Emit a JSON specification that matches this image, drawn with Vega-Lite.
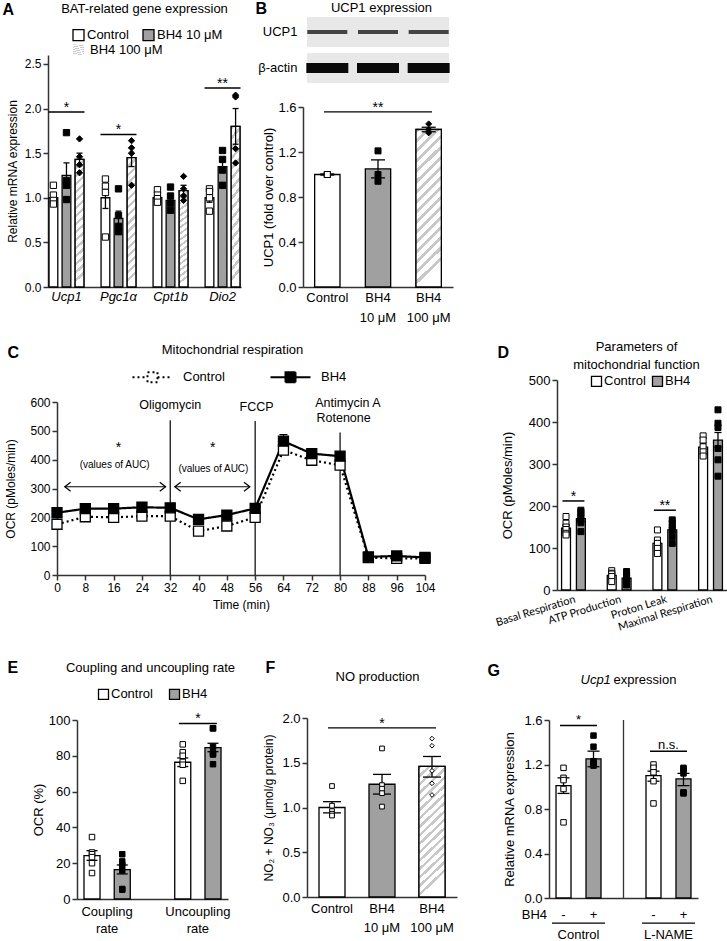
{
"$schema":"https://vega.github.io/schema/vega-lite/v6.json",
"width":727,"height":941,"autosize":"none","padding":0,
"background":"white",
"config":{
 "view":{"stroke":null},
 "font":"Liberation Sans",
 "axis":{"labelFont":"Liberation Sans","titleFont":"Liberation Sans","labelFontSize":12,"titleFontSize":12,"titleFontWeight":"normal","labelColor":"#000","titleColor":"#000","domain":true,"domainColor":"#333","domainWidth":1.5,"tickColor":"#333","tickWidth":1.5,"tickSize":5,"grid":false,"labelPadding":2,"zindex":1},
 "legend":{"labelFont":"Liberation Sans","labelFontSize":13,"labelColor":"#000","padding":0},
 "text":{"font":"Liberation Sans","color":"#000"},
 "tick":{"opacity":1,"color":"#000"},
 "point":{"opacity":1},
 "rule":{"color":"#000"}
},
"resolve":{"scale":{"x":"independent","y":"independent","xOffset":"independent","color":"independent","fill":"independent","shape":"independent","strokeDash":"independent","opacity":"independent"},"axis":{"x":"independent","y":"independent"}},
"layer":[
{
 "data":{"values":[
  {"k":"bar","gene":"Ucp1","grp":"Control","v":1.0,"lo":0.97,"hi":1.03},
  {"k":"bar","gene":"Ucp1","grp":"BH4 10 μM","v":1.25,"lo":1.11,"hi":1.39},
  {"k":"bar","gene":"Ucp1","grp":"BH4 100 μM","v":1.43,"lo":1.36,"hi":1.5},
  {"k":"bar","gene":"Pgc1α","grp":"Control","v":1.0,"lo":0.88,"hi":1.12},
  {"k":"bar","gene":"Pgc1α","grp":"BH4 10 μM","v":0.77,"lo":0.69,"hi":0.85},
  {"k":"bar","gene":"Pgc1α","grp":"BH4 100 μM","v":1.45,"lo":1.35,"hi":1.56},
  {"k":"bar","gene":"Cpt1b","grp":"Control","v":1.0,"lo":0.97,"hi":1.03},
  {"k":"bar","gene":"Cpt1b","grp":"BH4 10 μM","v":0.97,"lo":0.92,"hi":1.03},
  {"k":"bar","gene":"Cpt1b","grp":"BH4 100 μM","v":1.08,"lo":1.03,"hi":1.14},
  {"k":"bar","gene":"Dio2","grp":"Control","v":1.0,"lo":0.95,"hi":1.05},
  {"k":"bar","gene":"Dio2","grp":"BH4 10 μM","v":1.35,"lo":1.3,"hi":1.41},
  {"k":"bar","gene":"Dio2","grp":"BH4 100 μM","v":1.8,"lo":1.6,"hi":2.0},
  {"k":"pt","gene":"Ucp1","grp":"Control","v":1.14},{"k":"pt","gene":"Ucp1","grp":"Control","v":1.03},{"k":"pt","gene":"Ucp1","grp":"Control","v":0.97},{"k":"pt","gene":"Ucp1","grp":"Control","v":0.93},
  {"k":"pt","gene":"Ucp1","grp":"BH4 10 μM","v":1.73},{"k":"pt","gene":"Ucp1","grp":"BH4 10 μM","v":1.19},{"k":"pt","gene":"Ucp1","grp":"BH4 10 μM","v":1.14},{"k":"pt","gene":"Ucp1","grp":"BH4 10 μM","v":0.98},
  {"k":"pt","gene":"Ucp1","grp":"BH4 100 μM","v":1.66},{"k":"pt","gene":"Ucp1","grp":"BH4 100 μM","v":1.46},{"k":"pt","gene":"Ucp1","grp":"BH4 100 μM","v":1.37},{"k":"pt","gene":"Ucp1","grp":"BH4 100 μM","v":1.28},
  {"k":"pt","gene":"Pgc1α","grp":"Control","v":1.21},{"k":"pt","gene":"Pgc1α","grp":"Control","v":1.13},{"k":"pt","gene":"Pgc1α","grp":"Control","v":1.06},{"k":"pt","gene":"Pgc1α","grp":"Control","v":0.56},
  {"k":"pt","gene":"Pgc1α","grp":"BH4 10 μM","v":1.1},{"k":"pt","gene":"Pgc1α","grp":"BH4 10 μM","v":0.8},{"k":"pt","gene":"Pgc1α","grp":"BH4 10 μM","v":0.68},{"k":"pt","gene":"Pgc1α","grp":"BH4 10 μM","v":0.62},
  {"k":"pt","gene":"Pgc1α","grp":"BH4 100 μM","v":1.64},{"k":"pt","gene":"Pgc1α","grp":"BH4 100 μM","v":1.56},{"k":"pt","gene":"Pgc1α","grp":"BH4 100 μM","v":1.5},{"k":"pt","gene":"Pgc1α","grp":"BH4 100 μM","v":1.14},
  {"k":"pt","gene":"Cpt1b","grp":"Control","v":1.09},{"k":"pt","gene":"Cpt1b","grp":"Control","v":1.03},{"k":"pt","gene":"Cpt1b","grp":"Control","v":0.99},{"k":"pt","gene":"Cpt1b","grp":"Control","v":0.95},
  {"k":"pt","gene":"Cpt1b","grp":"BH4 10 μM","v":1.12},{"k":"pt","gene":"Cpt1b","grp":"BH4 10 μM","v":1.02},{"k":"pt","gene":"Cpt1b","grp":"BH4 10 μM","v":0.94},{"k":"pt","gene":"Cpt1b","grp":"BH4 10 μM","v":0.86},
  {"k":"pt","gene":"Cpt1b","grp":"BH4 100 μM","v":1.24},{"k":"pt","gene":"Cpt1b","grp":"BH4 100 μM","v":1.1},{"k":"pt","gene":"Cpt1b","grp":"BH4 100 μM","v":1.02},{"k":"pt","gene":"Cpt1b","grp":"BH4 100 μM","v":0.97},
  {"k":"pt","gene":"Dio2","grp":"Control","v":1.1},{"k":"pt","gene":"Dio2","grp":"Control","v":1.07},{"k":"pt","gene":"Dio2","grp":"Control","v":1.0},{"k":"pt","gene":"Dio2","grp":"Control","v":0.85},
  {"k":"pt","gene":"Dio2","grp":"BH4 10 μM","v":1.53},{"k":"pt","gene":"Dio2","grp":"BH4 10 μM","v":1.43},{"k":"pt","gene":"Dio2","grp":"BH4 10 μM","v":1.31},{"k":"pt","gene":"Dio2","grp":"BH4 10 μM","v":1.14},
  {"k":"pt","gene":"Dio2","grp":"BH4 100 μM","v":2.15},{"k":"pt","gene":"Dio2","grp":"BH4 100 μM","v":2.13},{"k":"pt","gene":"Dio2","grp":"BH4 100 μM","v":1.55},{"k":"pt","gene":"Dio2","grp":"BH4 100 μM","v":1.39},
  {"k":"sig","gene":"Ucp1","v":1.96,"lab":"*"},{"k":"sig","gene":"Pgc1α","v":1.71,"lab":"*"},{"k":"sig","gene":"Dio2","v":2.23,"lab":"**"}
 ]},
 "resolve":{"axis":{"x":"independent","y":"independent"}},
 "layer":[
  {"transform":[{"filter":"datum.k=='bar'"}],"mark":{"type":"bar","stroke":"#000","strokeWidth":1.3},
   "encoding":{
    "x":{"field":"gene","type":"nominal","sort":["Ucp1","Pgc1α","Cpt1b","Dio2"],"scale":{"range":[48,241],"paddingInner":0.33,"paddingOuter":0.02},"axis":{"orient":"bottom","offset":-654,"title":null,"ticks":false,"labelAngle":0,"labelFontStyle":"italic","labelFontSize":13,"labelPadding":3}},
    "xOffset":{"field":"grp","type":"nominal","sort":["Control","BH4 10 μM","BH4 100 μM"],"scale":{"domain":["Control","BH4 10 μM","BH4 100 μM"],"paddingInner":0.33,"paddingOuter":0}},
    "y":{"field":"v","type":"quantitative","scale":{"domain":[0,2.5],"range":[287,55]},"axis":{"orient":"left","offset":-48,"title":"Relative mRNA expression","values":[0,0.5,1,1.5,2,2.5],"format":".1f","titlePadding":5}},
    "color":{"field":"grp","type":"nominal","scale":{"domain":["Control","BH4 10 μM","BH4 100 μM"],"range":["#ffffff","#a0a0a0","#dadada"]},
     "legend":{"title":null,"orient":"none","legendX":72,"legendY":28.5,"direction":"horizontal","values":["Control","BH4 10 μM"],"symbolType":"square","symbolSize":121,"symbolStrokeColor":"#000","symbolStrokeWidth":1.3,"columnPadding":11,"labelOffset":2}}
   }},
  {"transform":[{"filter":"datum.k=='bar' && datum.grp=='BH4 100 μM'"}],"mark":{"type":"bar","stroke":"#000","strokeWidth":1.3,"fill":{"gradient":"linear","x1":0,"y1":0,"x2":0.067,"y2":1,"stops":[{"offset":0,"color":"#c8c8c8"},{"offset":0.025,"color":"#c8c8c8"},{"offset":0.025,"color":"#fff"},{"offset":0.0625,"color":"#fff"},{"offset":0.0625,"color":"#c8c8c8"},{"offset":0.0875,"color":"#c8c8c8"},{"offset":0.0875,"color":"#fff"},{"offset":0.125,"color":"#fff"},{"offset":0.125,"color":"#c8c8c8"},{"offset":0.15,"color":"#c8c8c8"},{"offset":0.15,"color":"#fff"},{"offset":0.1875,"color":"#fff"},{"offset":0.1875,"color":"#c8c8c8"},{"offset":0.2125,"color":"#c8c8c8"},{"offset":0.2125,"color":"#fff"},{"offset":0.25,"color":"#fff"},{"offset":0.25,"color":"#c8c8c8"},{"offset":0.275,"color":"#c8c8c8"},{"offset":0.275,"color":"#fff"},{"offset":0.3125,"color":"#fff"},{"offset":0.3125,"color":"#c8c8c8"},{"offset":0.3375,"color":"#c8c8c8"},{"offset":0.3375,"color":"#fff"},{"offset":0.375,"color":"#fff"},{"offset":0.375,"color":"#c8c8c8"},{"offset":0.4,"color":"#c8c8c8"},{"offset":0.4,"color":"#fff"},{"offset":0.4375,"color":"#fff"},{"offset":0.4375,"color":"#c8c8c8"},{"offset":0.4625,"color":"#c8c8c8"},{"offset":0.4625,"color":"#fff"},{"offset":0.5,"color":"#fff"},{"offset":0.5,"color":"#c8c8c8"},{"offset":0.525,"color":"#c8c8c8"},{"offset":0.525,"color":"#fff"},{"offset":0.5625,"color":"#fff"},{"offset":0.5625,"color":"#c8c8c8"},{"offset":0.5875,"color":"#c8c8c8"},{"offset":0.5875,"color":"#fff"},{"offset":0.625,"color":"#fff"},{"offset":0.625,"color":"#c8c8c8"},{"offset":0.65,"color":"#c8c8c8"},{"offset":0.65,"color":"#fff"},{"offset":0.6875,"color":"#fff"},{"offset":0.6875,"color":"#c8c8c8"},{"offset":0.7125,"color":"#c8c8c8"},{"offset":0.7125,"color":"#fff"},{"offset":0.75,"color":"#fff"},{"offset":0.75,"color":"#c8c8c8"},{"offset":0.775,"color":"#c8c8c8"},{"offset":0.775,"color":"#fff"},{"offset":0.8125,"color":"#fff"},{"offset":0.8125,"color":"#c8c8c8"},{"offset":0.8375,"color":"#c8c8c8"},{"offset":0.8375,"color":"#fff"},{"offset":0.875,"color":"#fff"},{"offset":0.875,"color":"#c8c8c8"},{"offset":0.9,"color":"#c8c8c8"},{"offset":0.9,"color":"#fff"},{"offset":0.9375,"color":"#fff"},{"offset":0.9375,"color":"#c8c8c8"},{"offset":0.9625,"color":"#c8c8c8"},{"offset":0.9625,"color":"#fff"},{"offset":1,"color":"#fff"}]}},
   "encoding":{"x":{"field":"gene","type":"nominal","sort":["Ucp1","Pgc1α","Cpt1b","Dio2"],"axis":null},"xOffset":{"field":"grp","type":"nominal","sort":["Control","BH4 10 μM","BH4 100 μM"]},"y":{"field":"v","type":"quantitative","axis":null},
    "opacity":{"field":"grp","type":"ordinal","scale":{"domain":["BH4 100 μM"],"range":[1]},
     "legend":{"title":null,"orient":"none","legendX":72,"legendY":43.5,"symbolType":"square","symbolSize":121,"symbolStrokeColor":"#000","symbolStrokeWidth":1.3,"symbolOpacity":1,"labelOffset":5}}}},
  {"transform":[{"filter":"datum.k=='bar'"}],"mark":{"type":"rule","strokeWidth":1.3},
   "encoding":{"x":{"field":"gene","type":"nominal","sort":["Ucp1","Pgc1α","Cpt1b","Dio2"],"axis":null},"xOffset":{"field":"grp","type":"nominal","sort":["Control","BH4 10 μM","BH4 100 μM"]},"y":{"field":"lo","type":"quantitative","axis":null},"y2":{"field":"hi"}}},
  {"transform":[{"filter":"datum.k=='bar'"}],"mark":{"type":"tick","orient":"horizontal","size":6,"thickness":1.3},
   "encoding":{"x":{"field":"gene","type":"nominal","sort":["Ucp1","Pgc1α","Cpt1b","Dio2"],"axis":null},"xOffset":{"field":"grp","type":"nominal","sort":["Control","BH4 10 μM","BH4 100 μM"]},"y":{"field":"hi","type":"quantitative","axis":null}}},
  {"transform":[{"filter":"datum.k=='bar'"}],"mark":{"type":"tick","orient":"horizontal","size":6,"thickness":1.3},
   "encoding":{"x":{"field":"gene","type":"nominal","sort":["Ucp1","Pgc1α","Cpt1b","Dio2"],"axis":null},"xOffset":{"field":"grp","type":"nominal","sort":["Control","BH4 10 μM","BH4 100 μM"]},"y":{"field":"lo","type":"quantitative","axis":null}}},
  {"transform":[{"filter":"datum.k=='pt'"}],"mark":{"type":"point","filled":true,"stroke":"#000","strokeWidth":1,"size":40},
   "encoding":{"x":{"field":"gene","type":"nominal","sort":["Ucp1","Pgc1α","Cpt1b","Dio2"],"axis":null},"xOffset":{"field":"grp","type":"nominal","sort":["Control","BH4 10 μM","BH4 100 μM"]},"y":{"field":"v","type":"quantitative","axis":null},
    "fill":{"field":"grp","type":"nominal","sort":["Control","BH4 10 μM","BH4 100 μM"],"scale":{"range":["#ffffff","#000000","#000000"]},"legend":null},
    "shape":{"field":"grp","type":"nominal","sort":["Control","BH4 10 μM","BH4 100 μM"],"scale":{"range":["square","square","diamond"]},"legend":null}}},
  {"transform":[{"filter":"datum.k=='sig'"}],"mark":{"type":"tick","orient":"horizontal","size":36,"thickness":1.5},
   "encoding":{"x":{"field":"gene","type":"nominal","sort":["Ucp1","Pgc1α","Cpt1b","Dio2"],"axis":{"orient":"top","offset":0,"title":"BAT-related gene expression","titleX":144,"titleY":8,"titleAlign":"center","titleBaseline":"middle","titleFontSize":13,"labels":false,"ticks":false,"domain":false}},"y":{"field":"v","type":"quantitative","axis":null}}},
  {"transform":[{"filter":"datum.k=='sig'"}],"mark":{"type":"text","fontSize":14,"baseline":"alphabetic"},
   "encoding":{"x":{"field":"gene","type":"nominal","sort":["Ucp1","Pgc1α","Cpt1b","Dio2"],"axis":{"orient":"top","offset":0,"title":"A","titleX":2,"titleY":9,"titleAlign":"left","titleBaseline":"middle","titleFontSize":16,"titleFontWeight":"bold","labels":false,"ticks":false,"domain":false}},"y":{"field":"v","type":"quantitative","axis":null},"text":{"field":"lab"}}}
 ]
},
{
 "data":{"values":[
  {"lane":"Control","prot":"UCP1"},{"lane":"BH4|10 μM","prot":"UCP1"},{"lane":"BH4|100 μM","prot":"UCP1"},
  {"lane":"Control","prot":"β-actin"},{"lane":"BH4|10 μM","prot":"β-actin"},{"lane":"BH4|100 μM","prot":"β-actin"}
 ]},
 "resolve":{"axis":{"x":"independent","y":"independent"}},
 "layer":[
  {"transform":[{"filter":"datum.lane=='BH4|10 μM'"}],"mark":{"type":"tick","orient":"horizontal","size":142,"thickness":30,"color":"#e8e8e8"},
   "encoding":{"x":{"field":"lane","type":"nominal","sort":["Control","BH4|10 μM","BH4|100 μM"],"scale":{"range":[303,453],"paddingInner":0.2,"paddingOuter":0.08},"axis":null},
    "y":{"field":"prot","type":"nominal","sort":["UCP1","β-actin"],"scale":{"range":[17,83],"paddingInner":0.16,"paddingOuter":0},"axis":{"orient":"left","offset":-303,"title":null,"ticks":false,"domain":false,"labelFontSize":13,"labelPadding":6}}}},
  {"transform":[{"filter":"datum.prot=='UCP1'"}],"mark":{"type":"tick","orient":"horizontal","size":40,"thickness":4,"color":"#444"},
   "encoding":{"x":{"field":"lane","type":"nominal","sort":["Control","BH4|10 μM","BH4|100 μM"],"axis":{"orient":"top","offset":0,"title":"UCP1 expression","titleX":381,"titleY":7,"titleAlign":"center","titleBaseline":"middle","titleFontSize":13,"labels":false,"ticks":false,"domain":false}},
    "y":{"field":"prot","type":"nominal","sort":["UCP1","β-actin"],"axis":null}}},
  {"transform":[{"filter":"datum.prot=='β-actin'"}],"mark":{"type":"tick","orient":"horizontal","size":42,"thickness":10,"color":"#0a0a0a"},
   "encoding":{"x":{"field":"lane","type":"nominal","sort":["Control","BH4|10 μM","BH4|100 μM"],"axis":{"orient":"top","offset":0,"title":"B","titleX":255,"titleY":8,"titleAlign":"left","titleBaseline":"middle","titleFontSize":16,"titleFontWeight":"bold","labels":false,"ticks":false,"domain":false}},"y":{"field":"prot","type":"nominal","sort":["UCP1","β-actin"],"axis":null}}}
 ]
},
{
 "data":{"values":[
  {"k":"bar","c":"Control","v":1.0,"lo":0.995,"hi":1.005},
  {"k":"bar","c":"BH4|10 μM","v":1.05,"lo":0.97,"hi":1.13},
  {"k":"bar","c":"BH4|100 μM","v":1.4,"lo":1.38,"hi":1.42},
  {"k":"pt","c":"Control","v":1.0},{"k":"pt","c":"Control","v":1.0},{"k":"pt","c":"Control","v":1.0},
  {"k":"pt","c":"BH4|10 μM","v":1.21},{"k":"pt","c":"BH4|10 μM","v":1.0},{"k":"pt","c":"BH4|10 μM","v":0.94},
  {"k":"pt","c":"BH4|100 μM","v":1.45},{"k":"pt","c":"BH4|100 μM","v":1.4},{"k":"pt","c":"BH4|100 μM","v":1.37},
  {"k":"sig","c":"BH4|10 μM","v":1.556,"lab":"**"}
 ]},
 "resolve":{"axis":{"x":"independent","y":"independent"}},
 "layer":[
  {"transform":[{"filter":"datum.k=='bar'"}],"mark":{"type":"bar","stroke":"#000","strokeWidth":1.3},
   "encoding":{
    "x":{"field":"c","type":"nominal","sort":["Control","BH4|10 μM","BH4|100 μM"],"scale":{"range":[303,453],"paddingInner":0.5,"paddingOuter":0.23},"axis":{"orient":"bottom","offset":-654,"title":null,"ticks":false,"labelAngle":0,"labelExpr":"split(datum.label,'|')","labelFontSize":13,"labelPadding":4,"labelLineHeight":20}},
    "y":{"field":"v","type":"quantitative","scale":{"domain":[0,1.6],"range":[287,107]},"axis":{"orient":"left","offset":-303,"title":"UCP1 (fold over control)","values":[0,0.4,0.8,1.2,1.6],"format":".1f","titlePadding":2,"labelFontSize":13,"titleFontSize":13}},
    "color":{"field":"c","type":"nominal","scale":{"domain":["Control","BH4|10 μM","BH4|100 μM"],"range":["#ffffff","#a0a0a0","#dadada"]},"legend":null}
   }},
  {"transform":[{"filter":"datum.k=='bar' && datum.c=='BH4|100 μM'"}],"mark":{"type":"bar","stroke":"#000","strokeWidth":1.3,"fill":{"gradient":"linear","x1":0,"y1":0,"x2":0.16,"y2":1,"stops":[{"offset":0,"color":"#c8c8c8"},{"offset":0.025,"color":"#c8c8c8"},{"offset":0.025,"color":"#fff"},{"offset":0.0625,"color":"#fff"},{"offset":0.0625,"color":"#c8c8c8"},{"offset":0.0875,"color":"#c8c8c8"},{"offset":0.0875,"color":"#fff"},{"offset":0.125,"color":"#fff"},{"offset":0.125,"color":"#c8c8c8"},{"offset":0.15,"color":"#c8c8c8"},{"offset":0.15,"color":"#fff"},{"offset":0.1875,"color":"#fff"},{"offset":0.1875,"color":"#c8c8c8"},{"offset":0.2125,"color":"#c8c8c8"},{"offset":0.2125,"color":"#fff"},{"offset":0.25,"color":"#fff"},{"offset":0.25,"color":"#c8c8c8"},{"offset":0.275,"color":"#c8c8c8"},{"offset":0.275,"color":"#fff"},{"offset":0.3125,"color":"#fff"},{"offset":0.3125,"color":"#c8c8c8"},{"offset":0.3375,"color":"#c8c8c8"},{"offset":0.3375,"color":"#fff"},{"offset":0.375,"color":"#fff"},{"offset":0.375,"color":"#c8c8c8"},{"offset":0.4,"color":"#c8c8c8"},{"offset":0.4,"color":"#fff"},{"offset":0.4375,"color":"#fff"},{"offset":0.4375,"color":"#c8c8c8"},{"offset":0.4625,"color":"#c8c8c8"},{"offset":0.4625,"color":"#fff"},{"offset":0.5,"color":"#fff"},{"offset":0.5,"color":"#c8c8c8"},{"offset":0.525,"color":"#c8c8c8"},{"offset":0.525,"color":"#fff"},{"offset":0.5625,"color":"#fff"},{"offset":0.5625,"color":"#c8c8c8"},{"offset":0.5875,"color":"#c8c8c8"},{"offset":0.5875,"color":"#fff"},{"offset":0.625,"color":"#fff"},{"offset":0.625,"color":"#c8c8c8"},{"offset":0.65,"color":"#c8c8c8"},{"offset":0.65,"color":"#fff"},{"offset":0.6875,"color":"#fff"},{"offset":0.6875,"color":"#c8c8c8"},{"offset":0.7125,"color":"#c8c8c8"},{"offset":0.7125,"color":"#fff"},{"offset":0.75,"color":"#fff"},{"offset":0.75,"color":"#c8c8c8"},{"offset":0.775,"color":"#c8c8c8"},{"offset":0.775,"color":"#fff"},{"offset":0.8125,"color":"#fff"},{"offset":0.8125,"color":"#c8c8c8"},{"offset":0.8375,"color":"#c8c8c8"},{"offset":0.8375,"color":"#fff"},{"offset":0.875,"color":"#fff"},{"offset":0.875,"color":"#c8c8c8"},{"offset":0.9,"color":"#c8c8c8"},{"offset":0.9,"color":"#fff"},{"offset":0.9375,"color":"#fff"},{"offset":0.9375,"color":"#c8c8c8"},{"offset":0.9625,"color":"#c8c8c8"},{"offset":0.9625,"color":"#fff"},{"offset":1,"color":"#fff"}]}},
   "encoding":{"x":{"field":"c","type":"nominal","sort":["Control","BH4|10 μM","BH4|100 μM"],"axis":null},"y":{"field":"v","type":"quantitative","axis":null}}},
  {"transform":[{"filter":"datum.k=='bar'"}],"mark":{"type":"rule","strokeWidth":1.3},
   "encoding":{"x":{"field":"c","type":"nominal","sort":["Control","BH4|10 μM","BH4|100 μM"],"axis":null},"y":{"field":"lo","type":"quantitative","axis":null},"y2":{"field":"hi"}}},
  {"transform":[{"filter":"datum.k=='bar'"}],"mark":{"type":"tick","orient":"horizontal","size":14,"thickness":1.3},
   "encoding":{"x":{"field":"c","type":"nominal","sort":["Control","BH4|10 μM","BH4|100 μM"],"axis":null},"y":{"field":"hi","type":"quantitative","axis":null}}},
  {"transform":[{"filter":"datum.k=='bar'"}],"mark":{"type":"tick","orient":"horizontal","size":14,"thickness":1.3},
   "encoding":{"x":{"field":"c","type":"nominal","sort":["Control","BH4|10 μM","BH4|100 μM"],"axis":null},"y":{"field":"lo","type":"quantitative","axis":null}}},
  {"transform":[{"filter":"datum.k=='pt'"}],"mark":{"type":"point","filled":true,"stroke":"#000","strokeWidth":1,"size":36},
   "encoding":{"x":{"field":"c","type":"nominal","sort":["Control","BH4|10 μM","BH4|100 μM"],"axis":null},"y":{"field":"v","type":"quantitative","axis":null},
    "fill":{"field":"c","type":"nominal","sort":["Control","BH4|10 μM","BH4|100 μM"],"scale":{"range":["#ffffff","#000000","#000000"]},"legend":null},
    "shape":{"field":"c","type":"nominal","sort":["Control","BH4|10 μM","BH4|100 μM"],"scale":{"range":["square","square","diamond"]},"legend":null}}},
  {"transform":[{"filter":"datum.k=='sig'"}],"mark":{"type":"tick","orient":"horizontal","size":108,"thickness":1.3},
   "encoding":{"x":{"field":"c","type":"nominal","sort":["Control","BH4|10 μM","BH4|100 μM"],"axis":null},"y":{"field":"v","type":"quantitative","axis":null}}},
  {"transform":[{"filter":"datum.k=='sig'"}],"mark":{"type":"text","fontSize":14,"baseline":"alphabetic"},
   "encoding":{"x":{"field":"c","type":"nominal","sort":["Control","BH4|10 μM","BH4|100 μM"],"axis":null},"y":{"field":"v","type":"quantitative","axis":null},"text":{"field":"lab"}}}
 ]
},
{
 "data":{"values":[
  {"k":"s","s":"Control","t":0,"v":176,"lo":168,"hi":184},{"k":"s","s":"Control","t":8,"v":202,"lo":194,"hi":210},{"k":"s","s":"Control","t":16,"v":200,"lo":192,"hi":208},{"k":"s","s":"Control","t":24,"v":204,"lo":196,"hi":212},{"k":"s","s":"Control","t":32,"v":204,"lo":196,"hi":212},{"k":"s","s":"Control","t":40,"v":152,"lo":144,"hi":160},{"k":"s","s":"Control","t":48,"v":170,"lo":162,"hi":178},{"k":"s","s":"Control","t":56,"v":200,"lo":192,"hi":208},{"k":"s","s":"Control","t":64,"v":433,"lo":420,"hi":446},{"k":"s","s":"Control","t":72,"v":398,"lo":388,"hi":408},{"k":"s","s":"Control","t":80,"v":381,"lo":370,"hi":392},{"k":"s","s":"Control","t":88,"v":60,"lo":55,"hi":65},{"k":"s","s":"Control","t":96,"v":58,"lo":53,"hi":63},{"k":"s","s":"Control","t":104,"v":58,"lo":53,"hi":63},
  {"k":"s","s":"BH4","t":0,"v":216,"lo":208,"hi":224},{"k":"s","s":"BH4","t":8,"v":230,"lo":222,"hi":238},{"k":"s","s":"BH4","t":16,"v":230,"lo":222,"hi":238},{"k":"s","s":"BH4","t":24,"v":235,"lo":227,"hi":243},{"k":"s","s":"BH4","t":32,"v":233,"lo":225,"hi":241},{"k":"s","s":"BH4","t":40,"v":193,"lo":185,"hi":201},{"k":"s","s":"BH4","t":48,"v":208,"lo":200,"hi":216},{"k":"s","s":"BH4","t":56,"v":231,"lo":223,"hi":239},{"k":"s","s":"BH4","t":64,"v":464,"lo":441,"hi":487},{"k":"s","s":"BH4","t":72,"v":421,"lo":410,"hi":432},{"k":"s","s":"BH4","t":80,"v":412,"lo":400,"hi":424},{"k":"s","s":"BH4","t":88,"v":63,"lo":58,"hi":68},{"k":"s","s":"BH4","t":96,"v":66,"lo":61,"hi":71},{"k":"s","s":"BH4","t":104,"v":61,"lo":56,"hi":66},
  {"k":"inj","t":32,"bot":0,"top":537},{"k":"inj","t":56,"bot":0,"top":534},{"k":"inj","t":80,"bot":0,"top":494},
  {"k":"lab","t":32,"v":588,"lab":"Oligomycin"},{"k":"lab","t":56.4,"v":583,"lab":"FCCP"},{"k":"lab","t":82.2,"v":597,"lab":"Antimycin A"},{"k":"lab","t":81,"v":546,"lab":"Rotenone"},
  {"k":"arr","a1":2.2,"a2":30.7,"v":306},{"k":"arr","a1":33.3,"a2":54.5,"v":306},
  {"k":"star","t":17.4,"v":440,"lab":"*"},{"k":"star","t":44,"v":440,"lab":"*"},
  {"k":"auc","t":16.3,"v":381,"lab":"(values of AUC)"},{"k":"auc","t":44.2,"v":369,"lab":"(values of AUC)"}
 ]},
 "resolve":{"axis":{"x":"independent","y":"independent"}},
 "layer":[
  {"transform":[{"filter":"datum.k=='inj'"}],"mark":{"type":"rule","strokeWidth":1.2},
   "encoding":{"x":{"field":"t","type":"quantitative","axis":null},"y":{"field":"bot","type":"quantitative","axis":null},"y2":{"field":"top"}}},
  {"transform":[{"filter":"datum.k=='s'"}],"mark":{"type":"line","color":"#000","strokeWidth":2.2},
   "encoding":{
    "x":{"field":"t","type":"quantitative","scale":{"domain":[0,104],"range":[57,425],"nice":false},"axis":{"orient":"bottom","offset":-366,"title":"Time (min)","values":[0,8,16,24,32,40,48,56,64,72,80,88,96,104],"labelFlush":false,"labelOverlap":false,"titlePadding":6}},
    "y":{"field":"v","type":"quantitative","scale":{"domain":[0,600],"range":[575,402],"nice":false},"axis":{"orient":"left","offset":-57,"title":"OCR (pMoles/min)","values":[0,100,200,300,400,500,600],"titlePadding":12}},
    "strokeDash":{"field":"s","type":"nominal","scale":{"domain":["Control","BH4"],"range":[[2,3],[1,0]]},
     "legend":{"title":null,"orient":"none","legendX":146,"legendY":370.5,"direction":"horizontal","symbolType":"M-4,0L-1,0M1,0L4,0M-1,-1L1,-1L1,1L-1,1Z","symbolSize":100,"symbolStrokeColor":"#000","symbolStrokeWidth":2,"labelOffset":24,"columnPadding":41}}
   }},
  {"transform":[{"filter":"datum.k=='s'"}],"mark":{"type":"rule","strokeWidth":1.2},
   "encoding":{"x":{"field":"t","type":"quantitative","axis":null},"y":{"field":"lo","type":"quantitative","axis":null},"y2":{"field":"hi"}}},
  {"transform":[{"filter":"datum.k=='s'"}],"mark":{"type":"tick","orient":"horizontal","size":8,"thickness":1.2},
   "encoding":{"x":{"field":"t","type":"quantitative","axis":null},"y":{"field":"hi","type":"quantitative","axis":null}}},
  {"transform":[{"filter":"datum.k=='s'"}],"mark":{"type":"point","shape":"square","filled":true,"size":100,"stroke":"#000","strokeWidth":1.3},
   "encoding":{"x":{"field":"t","type":"quantitative","axis":null},"y":{"field":"v","type":"quantitative","axis":null},
    "fill":{"field":"s","type":"nominal","scale":{"domain":["Control","BH4"],"range":["#ffffff","#000000"]},
     "legend":{"title":null,"orient":"none","legendX":146,"legendY":370.5,"direction":"horizontal","symbolType":"M-4,0L-1,0M1,0L4,0M-1,-1L1,-1L1,1L-1,1Z","symbolSize":100,"symbolStrokeColor":"#000","symbolStrokeWidth":2,"labelOffset":24,"columnPadding":41}}}},
  {"transform":[{"filter":"datum.k=='lab'"}],"mark":{"type":"text","fontSize":12.5,"baseline":"middle"},
   "encoding":{"x":{"field":"t","type":"quantitative","axis":null},"y":{"field":"v","type":"quantitative","axis":null},"text":{"field":"lab"}}},
  {"transform":[{"filter":"datum.k=='arr'"}],"mark":{"type":"rule","strokeWidth":1.2},
   "encoding":{"x":{"field":"a1","type":"quantitative","axis":null},"x2":{"field":"a2"},"y":{"field":"v","type":"quantitative","axis":null}}},
  {"transform":[{"filter":"datum.k=='arr'"}],"mark":{"type":"point","shape":"M1.3,-1L0,0L1.3,1","filled":false,"size":81,"stroke":"#000","strokeWidth":1.2},
   "encoding":{"x":{"field":"a1","type":"quantitative","axis":null},"y":{"field":"v","type":"quantitative","axis":null}}},
  {"transform":[{"filter":"datum.k=='arr'"}],"mark":{"type":"point","shape":"M-1.3,-1L0,0L-1.3,1","filled":false,"size":81,"stroke":"#000","strokeWidth":1.2},
   "encoding":{"x":{"field":"a2","type":"quantitative","axis":null},"y":{"field":"v","type":"quantitative","axis":null}}},
  {"transform":[{"filter":"datum.k=='star'"}],"mark":{"type":"text","fontSize":14,"baseline":"middle"},
   "encoding":{"x":{"field":"t","type":"quantitative","axis":{"orient":"top","offset":0,"title":"Mitochondrial respiration","titleX":232,"titleY":349,"titleAlign":"center","titleBaseline":"middle","titleFontSize":13,"labels":false,"ticks":false,"domain":false}},"y":{"field":"v","type":"quantitative","axis":null},"text":{"field":"lab"}}},
  {"transform":[{"filter":"datum.k=='auc'"}],"mark":{"type":"text","fontSize":10,"baseline":"middle"},
   "encoding":{"x":{"field":"t","type":"quantitative","axis":{"orient":"top","offset":0,"title":"C","titleX":7,"titleY":352,"titleAlign":"left","titleBaseline":"middle","titleFontSize":16,"titleFontWeight":"bold","labels":false,"ticks":false,"domain":false}},"y":{"field":"v","type":"quantitative","axis":null},"text":{"field":"lab"}}}
 ]
},
{
 "data":{"values":[
  {"k":"bar","p":"Basal Respiration","g":"Control","v":147,"lo":140,"hi":154},{"k":"bar","p":"Basal Respiration","g":"BH4","v":170,"lo":163,"hi":177},
  {"k":"bar","p":"ATP Production","g":"Control","v":35,"lo":30,"hi":40},{"k":"bar","p":"ATP Production","g":"BH4","v":28,"lo":21,"hi":35},
  {"k":"bar","p":"Proton Leak","g":"Control","v":111,"lo":104,"hi":118},{"k":"bar","p":"Proton Leak","g":"BH4","v":143,"lo":136,"hi":150},
  {"k":"bar","p":"Maximal Respiration","g":"Control","v":340,"lo":330,"hi":350},{"k":"bar","p":"Maximal Respiration","g":"BH4","v":357,"lo":340,"hi":375},
  {"k":"pt","p":"Basal Respiration","g":"Control","v":175},{"k":"pt","p":"Basal Respiration","g":"Control","v":159},{"k":"pt","p":"Basal Respiration","g":"Control","v":150},{"k":"pt","p":"Basal Respiration","g":"Control","v":144},{"k":"pt","p":"Basal Respiration","g":"Control","v":135},{"k":"pt","p":"Basal Respiration","g":"Control","v":131},
  {"k":"pt","p":"Basal Respiration","g":"BH4","v":190},{"k":"pt","p":"Basal Respiration","g":"BH4","v":185},{"k":"pt","p":"Basal Respiration","g":"BH4","v":176},{"k":"pt","p":"Basal Respiration","g":"BH4","v":167},{"k":"pt","p":"Basal Respiration","g":"BH4","v":160},{"k":"pt","p":"Basal Respiration","g":"BH4","v":139},
  {"k":"pt","p":"ATP Production","g":"Control","v":46},{"k":"pt","p":"ATP Production","g":"Control","v":40},{"k":"pt","p":"ATP Production","g":"Control","v":38},{"k":"pt","p":"ATP Production","g":"Control","v":32},{"k":"pt","p":"ATP Production","g":"Control","v":20},
  {"k":"pt","p":"ATP Production","g":"BH4","v":44},{"k":"pt","p":"ATP Production","g":"BH4","v":36},{"k":"pt","p":"ATP Production","g":"BH4","v":30},{"k":"pt","p":"ATP Production","g":"BH4","v":25},{"k":"pt","p":"ATP Production","g":"BH4","v":12},
  {"k":"pt","p":"Proton Leak","g":"Control","v":143},{"k":"pt","p":"Proton Leak","g":"Control","v":119},{"k":"pt","p":"Proton Leak","g":"Control","v":111},{"k":"pt","p":"Proton Leak","g":"Control","v":99},{"k":"pt","p":"Proton Leak","g":"Control","v":87},
  {"k":"pt","p":"Proton Leak","g":"BH4","v":167},{"k":"pt","p":"Proton Leak","g":"BH4","v":160},{"k":"pt","p":"Proton Leak","g":"BH4","v":150},{"k":"pt","p":"Proton Leak","g":"BH4","v":143},{"k":"pt","p":"Proton Leak","g":"BH4","v":127},{"k":"pt","p":"Proton Leak","g":"BH4","v":111},
  {"k":"pt","p":"Maximal Respiration","g":"Control","v":367},{"k":"pt","p":"Maximal Respiration","g":"Control","v":357},{"k":"pt","p":"Maximal Respiration","g":"Control","v":341},{"k":"pt","p":"Maximal Respiration","g":"Control","v":329},{"k":"pt","p":"Maximal Respiration","g":"Control","v":319},
  {"k":"pt","p":"Maximal Respiration","g":"BH4","v":429},{"k":"pt","p":"Maximal Respiration","g":"BH4","v":397},{"k":"pt","p":"Maximal Respiration","g":"BH4","v":387},{"k":"pt","p":"Maximal Respiration","g":"BH4","v":337},{"k":"pt","p":"Maximal Respiration","g":"BH4","v":310},{"k":"pt","p":"Maximal Respiration","g":"BH4","v":271},
  {"k":"sig","p":"Basal Respiration","v":212,"lab":"*"},{"k":"sig","p":"Proton Leak","v":190,"lab":"**"}
 ]},
 "resolve":{"axis":{"x":"independent","y":"independent"}},
 "layer":[
  {"transform":[{"filter":"datum.k=='bar'"}],"mark":{"type":"bar","stroke":"#000","strokeWidth":1.3},
   "encoding":{
    "x":{"field":"p","type":"nominal","sort":["Basal Respiration","ATP Production","Proton Leak","Maximal Respiration"],"scale":{"range":[557,727],"paddingInner":0.48,"paddingOuter":0.1},"axis":{"orient":"bottom","offset":-351,"title":null,"ticks":false,"labelAngle":-17,"labelFont":"Lato","labelFontSize":11,"labelPadding":3}},
    "xOffset":{"field":"g","type":"nominal","sort":["Control","BH4"],"scale":{"domain":["Control","BH4"],"paddingInner":0.4,"paddingOuter":0}},
    "y":{"field":"v","type":"quantitative","scale":{"domain":[0,500],"range":[590,380]},"axis":{"orient":"left","offset":-557,"title":"OCR (pMoles/min)","values":[0,100,200,300,400,500],"titlePadding":14,"labelFontSize":13,"titleFontSize":13}},
    "color":{"field":"g","type":"nominal","scale":{"domain":["Control","BH4"],"range":["#ffffff","#a0a0a0"]},
     "legend":{"title":null,"orient":"none","legendX":590,"legendY":374.5,"direction":"horizontal","symbolType":"square","symbolSize":100,"symbolStrokeColor":"#000","symbolStrokeWidth":1.3,"columnPadding":3,"labelOffset":1}}
   }},
  {"transform":[{"filter":"datum.k=='bar'"}],"mark":{"type":"rule","strokeWidth":1.3},
   "encoding":{"x":{"field":"p","type":"nominal","sort":["Basal Respiration","ATP Production","Proton Leak","Maximal Respiration"],"axis":null},"xOffset":{"field":"g","type":"nominal","sort":["Control","BH4"]},"y":{"field":"lo","type":"quantitative","axis":null},"y2":{"field":"hi"}}},
  {"transform":[{"filter":"datum.k=='bar'"}],"mark":{"type":"tick","orient":"horizontal","size":7,"thickness":1.3},
   "encoding":{"x":{"field":"p","type":"nominal","sort":["Basal Respiration","ATP Production","Proton Leak","Maximal Respiration"],"axis":null},"xOffset":{"field":"g","type":"nominal","sort":["Control","BH4"]},"y":{"field":"hi","type":"quantitative","axis":null}}},
  {"transform":[{"filter":"datum.k=='bar'"}],"mark":{"type":"tick","orient":"horizontal","size":7,"thickness":1.3},
   "encoding":{"x":{"field":"p","type":"nominal","sort":["Basal Respiration","ATP Production","Proton Leak","Maximal Respiration"],"axis":null},"xOffset":{"field":"g","type":"nominal","sort":["Control","BH4"]},"y":{"field":"lo","type":"quantitative","axis":null}}},
  {"transform":[{"filter":"datum.k=='pt'"}],"mark":{"type":"point","shape":"square","filled":true,"stroke":"#000","strokeWidth":1,"size":36},
   "encoding":{"x":{"field":"p","type":"nominal","sort":["Basal Respiration","ATP Production","Proton Leak","Maximal Respiration"],"axis":null},"xOffset":{"field":"g","type":"nominal","sort":["Control","BH4"]},"y":{"field":"v","type":"quantitative","axis":null},
    "fill":{"field":"g","type":"nominal","sort":["Control","BH4"],"scale":{"range":["#ffffff","#000000"]},"legend":null}}},
  {"transform":[{"filter":"datum.k=='sig'"}],"mark":{"type":"tick","orient":"horizontal","size":22,"thickness":1.5},
   "encoding":{"x":{"field":"p","type":"nominal","sort":["Basal Respiration","ATP Production","Proton Leak","Maximal Respiration"],"axis":{"orient":"top","offset":0,"title":["Parameters of","mitochondrial function"],"titleX":636,"titleY":346,"titleAlign":"center","titleBaseline":"middle","titleLineHeight":18,"titleFontSize":13,"labels":false,"ticks":false,"domain":false}},"y":{"field":"v","type":"quantitative","axis":null}}},
  {"transform":[{"filter":"datum.k=='sig'"}],"mark":{"type":"text","fontSize":14,"baseline":"alphabetic"},
   "encoding":{"x":{"field":"p","type":"nominal","sort":["Basal Respiration","ATP Production","Proton Leak","Maximal Respiration"],"axis":{"orient":"top","offset":0,"title":"D","titleX":497,"titleY":352,"titleAlign":"left","titleBaseline":"middle","titleFontSize":16,"titleFontWeight":"bold","labels":false,"ticks":false,"domain":false}},"y":{"field":"v","type":"quantitative","axis":null},"text":{"field":"lab"}}}
 ]
},
{
 "data":{"values":[
  {"k":"bar","c":"Coupling|rate","g":"Control","v":24.2,"lo":21.6,"hi":27},{"k":"bar","c":"Coupling|rate","g":"BH4","v":16.4,"lo":14,"hi":19},
  {"k":"bar","c":"Uncoupling|rate","g":"Control","v":76.4,"lo":74,"hi":78.8},{"k":"bar","c":"Uncoupling|rate","g":"BH4","v":84.6,"lo":82.3,"hi":87},
  {"k":"pt","c":"Coupling|rate","g":"Control","v":34.6},{"k":"pt","c":"Coupling|rate","g":"Control","v":26},{"k":"pt","c":"Coupling|rate","g":"Control","v":25},{"k":"pt","c":"Coupling|rate","g":"Control","v":23.4},{"k":"pt","c":"Coupling|rate","g":"Control","v":20},{"k":"pt","c":"Coupling|rate","g":"Control","v":14.5},
  {"k":"pt","c":"Coupling|rate","g":"BH4","v":25},{"k":"pt","c":"Coupling|rate","g":"BH4","v":21},{"k":"pt","c":"Coupling|rate","g":"BH4","v":19},{"k":"pt","c":"Coupling|rate","g":"BH4","v":16},{"k":"pt","c":"Coupling|rate","g":"BH4","v":5.6},{"k":"pt","c":"Coupling|rate","g":"BH4","v":5.2},
  {"k":"pt","c":"Uncoupling|rate","g":"Control","v":86.4},{"k":"pt","c":"Uncoupling|rate","g":"Control","v":82},{"k":"pt","c":"Uncoupling|rate","g":"Control","v":80},{"k":"pt","c":"Uncoupling|rate","g":"Control","v":76.6},{"k":"pt","c":"Uncoupling|rate","g":"Control","v":75},{"k":"pt","c":"Uncoupling|rate","g":"Control","v":66},
  {"k":"pt","c":"Uncoupling|rate","g":"BH4","v":95.4},{"k":"pt","c":"Uncoupling|rate","g":"BH4","v":95.3},{"k":"pt","c":"Uncoupling|rate","g":"BH4","v":85},{"k":"pt","c":"Uncoupling|rate","g":"BH4","v":81.4},{"k":"pt","c":"Uncoupling|rate","g":"BH4","v":80.7},{"k":"pt","c":"Uncoupling|rate","g":"BH4","v":75.3},
  {"k":"sig","c":"Uncoupling|rate","v":98.1,"lab":"*"}
 ]},
 "resolve":{"axis":{"x":"independent","y":"independent"}},
 "layer":[
  {"transform":[{"filter":"datum.k=='bar'"}],"mark":{"type":"bar","stroke":"#000","strokeWidth":1.3},
   "encoding":{
    "x":{"field":"c","type":"nominal","sort":["Coupling|rate","Uncoupling|rate"],"scale":{"range":[77,228],"paddingInner":0.49,"paddingOuter":0.077},"axis":{"orient":"bottom","offset":-42,"title":null,"ticks":false,"labelAngle":0,"labelExpr":"split(datum.label,'|')","labelFontSize":13,"labelPadding":6,"labelLineHeight":17}},
    "xOffset":{"field":"g","type":"nominal","sort":["Control","BH4"],"scale":{"domain":["Control","BH4"],"paddingInner":0.47,"paddingOuter":0}},
    "y":{"field":"v","type":"quantitative","scale":{"domain":[0,100],"range":[899,720]},"axis":{"orient":"left","offset":-77,"title":"OCR (%)","values":[0,20,40,60,80,100],"titlePadding":3,"labelFontSize":13,"titleFontSize":13}},
    "color":{"field":"g","type":"nominal","scale":{"domain":["Control","BH4"],"range":["#ffffff","#a0a0a0"]},
     "legend":{"title":null,"orient":"none","legendX":97,"legendY":687.5,"direction":"horizontal","symbolType":"square","symbolSize":100,"symbolStrokeColor":"#000","symbolStrokeWidth":1.3,"columnPadding":13,"labelOffset":1}}
   }},
  {"transform":[{"filter":"datum.k=='bar'"}],"mark":{"type":"rule","strokeWidth":1.3},
   "encoding":{"x":{"field":"c","type":"nominal","sort":["Coupling|rate","Uncoupling|rate"],"axis":null},"xOffset":{"field":"g","type":"nominal","sort":["Control","BH4"]},"y":{"field":"lo","type":"quantitative","axis":null},"y2":{"field":"hi"}}},
  {"transform":[{"filter":"datum.k=='bar'"}],"mark":{"type":"tick","orient":"horizontal","size":11,"thickness":1.3},
   "encoding":{"x":{"field":"c","type":"nominal","sort":["Coupling|rate","Uncoupling|rate"],"axis":null},"xOffset":{"field":"g","type":"nominal","sort":["Control","BH4"]},"y":{"field":"hi","type":"quantitative","axis":null}}},
  {"transform":[{"filter":"datum.k=='bar'"}],"mark":{"type":"tick","orient":"horizontal","size":11,"thickness":1.3},
   "encoding":{"x":{"field":"c","type":"nominal","sort":["Coupling|rate","Uncoupling|rate"],"axis":null},"xOffset":{"field":"g","type":"nominal","sort":["Control","BH4"]},"y":{"field":"lo","type":"quantitative","axis":null}}},
  {"transform":[{"filter":"datum.k=='pt'"}],"mark":{"type":"point","shape":"square","filled":true,"stroke":"#000","strokeWidth":1,"size":30},
   "encoding":{"x":{"field":"c","type":"nominal","sort":["Coupling|rate","Uncoupling|rate"],"axis":null},"xOffset":{"field":"g","type":"nominal","sort":["Control","BH4"]},"y":{"field":"v","type":"quantitative","axis":null},
    "fill":{"field":"g","type":"nominal","sort":["Control","BH4"],"scale":{"range":["#ffffff","#000000"]},"legend":null}}},
  {"transform":[{"filter":"datum.k=='sig'"}],"mark":{"type":"tick","orient":"horizontal","size":38,"thickness":1.5},
   "encoding":{"x":{"field":"c","type":"nominal","sort":["Coupling|rate","Uncoupling|rate"],"axis":{"orient":"top","offset":0,"title":"Coupling and uncoupling rate","titleX":150,"titleY":667,"titleAlign":"center","titleBaseline":"middle","titleFontSize":13,"labels":false,"ticks":false,"domain":false}},"y":{"field":"v","type":"quantitative","axis":null}}},
  {"transform":[{"filter":"datum.k=='sig'"}],"mark":{"type":"text","fontSize":14,"baseline":"alphabetic"},
   "encoding":{"x":{"field":"c","type":"nominal","sort":["Coupling|rate","Uncoupling|rate"],"axis":{"orient":"top","offset":0,"title":"E","titleX":7,"titleY":667,"titleAlign":"left","titleBaseline":"middle","titleFontSize":16,"titleFontWeight":"bold","labels":false,"ticks":false,"domain":false}},"y":{"field":"v","type":"quantitative","axis":null},"text":{"field":"lab"}}}
 ]
},
{
 "data":{"values":[
  {"k":"bar","c":"Control","v":1.0,"lo":0.94,"hi":1.065},
  {"k":"bar","c":"BH4|10 μM","v":1.26,"lo":1.15,"hi":1.37},
  {"k":"bar","c":"BH4|100 μM","v":1.46,"lo":1.34,"hi":1.57},
  {"k":"pt","c":"Control","v":1.24},{"k":"pt","c":"Control","v":1.02},{"k":"pt","c":"Control","v":0.96},{"k":"pt","c":"Control","v":0.93},{"k":"pt","c":"Control","v":0.91},
  {"k":"pt","c":"BH4|10 μM","v":1.66},{"k":"pt","c":"BH4|10 μM","v":1.25},{"k":"pt","c":"BH4|10 μM","v":1.21},{"k":"pt","c":"BH4|10 μM","v":1.16},{"k":"pt","c":"BH4|10 μM","v":1.01},
  {"k":"pt","c":"BH4|100 μM","v":1.77},{"k":"pt","c":"BH4|100 μM","v":1.69},{"k":"pt","c":"BH4|100 μM","v":1.41},{"k":"pt","c":"BH4|100 μM","v":1.27},{"k":"pt","c":"BH4|100 μM","v":1.14},
  {"k":"sig","c":"BH4|10 μM","v":1.89,"lab":"*"}
 ]},
 "resolve":{"axis":{"x":"independent","y":"independent"}},
 "layer":[
  {"transform":[{"filter":"datum.k=='bar'"}],"mark":{"type":"bar","stroke":"#000","strokeWidth":1.3},
   "encoding":{
    "x":{"field":"c","type":"nominal","sort":["Control","BH4|10 μM","BH4|100 μM"],"scale":{"range":[307,457],"paddingInner":0.48,"paddingOuter":0.24},"axis":{"orient":"bottom","offset":-44,"title":null,"ticks":false,"labelAngle":0,"labelExpr":"split(datum.label,'|')","labelFontSize":13,"labelPadding":5,"labelLineHeight":19}},
    "y":{"field":"v","type":"quantitative","scale":{"domain":[0,2],"range":[897,718]},"axis":{"orient":"left","offset":-307,"title":"NO₂ + NO₃ (μmol/g protein)","values":[0,0.5,1,1.5,2],"format":".1f","titlePadding":6,"labelFontSize":13}},
    "color":{"field":"c","type":"nominal","scale":{"domain":["Control","BH4|10 μM","BH4|100 μM"],"range":["#ffffff","#a0a0a0","#dadada"]},"legend":null}
   }},
  {"transform":[{"filter":"datum.k=='bar' && datum.c=='BH4|100 μM'"}],"mark":{"type":"bar","stroke":"#000","strokeWidth":1.3,"fill":{"gradient":"linear","x1":0,"y1":0,"x2":0.19,"y2":1,"stops":[{"offset":0,"color":"#c8c8c8"},{"offset":0.025,"color":"#c8c8c8"},{"offset":0.025,"color":"#fff"},{"offset":0.0625,"color":"#fff"},{"offset":0.0625,"color":"#c8c8c8"},{"offset":0.0875,"color":"#c8c8c8"},{"offset":0.0875,"color":"#fff"},{"offset":0.125,"color":"#fff"},{"offset":0.125,"color":"#c8c8c8"},{"offset":0.15,"color":"#c8c8c8"},{"offset":0.15,"color":"#fff"},{"offset":0.1875,"color":"#fff"},{"offset":0.1875,"color":"#c8c8c8"},{"offset":0.2125,"color":"#c8c8c8"},{"offset":0.2125,"color":"#fff"},{"offset":0.25,"color":"#fff"},{"offset":0.25,"color":"#c8c8c8"},{"offset":0.275,"color":"#c8c8c8"},{"offset":0.275,"color":"#fff"},{"offset":0.3125,"color":"#fff"},{"offset":0.3125,"color":"#c8c8c8"},{"offset":0.3375,"color":"#c8c8c8"},{"offset":0.3375,"color":"#fff"},{"offset":0.375,"color":"#fff"},{"offset":0.375,"color":"#c8c8c8"},{"offset":0.4,"color":"#c8c8c8"},{"offset":0.4,"color":"#fff"},{"offset":0.4375,"color":"#fff"},{"offset":0.4375,"color":"#c8c8c8"},{"offset":0.4625,"color":"#c8c8c8"},{"offset":0.4625,"color":"#fff"},{"offset":0.5,"color":"#fff"},{"offset":0.5,"color":"#c8c8c8"},{"offset":0.525,"color":"#c8c8c8"},{"offset":0.525,"color":"#fff"},{"offset":0.5625,"color":"#fff"},{"offset":0.5625,"color":"#c8c8c8"},{"offset":0.5875,"color":"#c8c8c8"},{"offset":0.5875,"color":"#fff"},{"offset":0.625,"color":"#fff"},{"offset":0.625,"color":"#c8c8c8"},{"offset":0.65,"color":"#c8c8c8"},{"offset":0.65,"color":"#fff"},{"offset":0.6875,"color":"#fff"},{"offset":0.6875,"color":"#c8c8c8"},{"offset":0.7125,"color":"#c8c8c8"},{"offset":0.7125,"color":"#fff"},{"offset":0.75,"color":"#fff"},{"offset":0.75,"color":"#c8c8c8"},{"offset":0.775,"color":"#c8c8c8"},{"offset":0.775,"color":"#fff"},{"offset":0.8125,"color":"#fff"},{"offset":0.8125,"color":"#c8c8c8"},{"offset":0.8375,"color":"#c8c8c8"},{"offset":0.8375,"color":"#fff"},{"offset":0.875,"color":"#fff"},{"offset":0.875,"color":"#c8c8c8"},{"offset":0.9,"color":"#c8c8c8"},{"offset":0.9,"color":"#fff"},{"offset":0.9375,"color":"#fff"},{"offset":0.9375,"color":"#c8c8c8"},{"offset":0.9625,"color":"#c8c8c8"},{"offset":0.9625,"color":"#fff"},{"offset":1,"color":"#fff"}]}},
   "encoding":{"x":{"field":"c","type":"nominal","sort":["Control","BH4|10 μM","BH4|100 μM"],"axis":null},"y":{"field":"v","type":"quantitative","axis":null}}},
  {"transform":[{"filter":"datum.k=='bar'"}],"mark":{"type":"rule","strokeWidth":1.3},
   "encoding":{"x":{"field":"c","type":"nominal","sort":["Control","BH4|10 μM","BH4|100 μM"],"axis":null},"y":{"field":"lo","type":"quantitative","axis":null},"y2":{"field":"hi"}}},
  {"transform":[{"filter":"datum.k=='bar'"}],"mark":{"type":"tick","orient":"horizontal","size":18,"thickness":1.3},
   "encoding":{"x":{"field":"c","type":"nominal","sort":["Control","BH4|10 μM","BH4|100 μM"],"axis":null},"y":{"field":"hi","type":"quantitative","axis":null}}},
  {"transform":[{"filter":"datum.k=='bar'"}],"mark":{"type":"tick","orient":"horizontal","size":18,"thickness":1.3},
   "encoding":{"x":{"field":"c","type":"nominal","sort":["Control","BH4|10 μM","BH4|100 μM"],"axis":null},"y":{"field":"lo","type":"quantitative","axis":null}}},
  {"transform":[{"filter":"datum.k=='pt'"}],"mark":{"type":"point","filled":true,"fill":"#ffffff","stroke":"#000","strokeWidth":1,"size":22},
   "encoding":{"x":{"field":"c","type":"nominal","sort":["Control","BH4|10 μM","BH4|100 μM"],"axis":null},"y":{"field":"v","type":"quantitative","axis":null},
    "shape":{"field":"c","type":"nominal","sort":["Control","BH4|10 μM","BH4|100 μM"],"scale":{"range":["square","square","diamond"]},"legend":null}}},
  {"transform":[{"filter":"datum.k=='sig'"}],"mark":{"type":"tick","orient":"horizontal","size":108,"thickness":1.3},
   "encoding":{"x":{"field":"c","type":"nominal","sort":["Control","BH4|10 μM","BH4|100 μM"],"axis":{"orient":"top","offset":0,"title":"NO production","titleX":377,"titleY":676,"titleAlign":"center","titleBaseline":"middle","titleFontSize":13,"labels":false,"ticks":false,"domain":false}},"y":{"field":"v","type":"quantitative","axis":null}}},
  {"transform":[{"filter":"datum.k=='sig'"}],"mark":{"type":"text","fontSize":14,"baseline":"alphabetic"},
   "encoding":{"x":{"field":"c","type":"nominal","sort":["Control","BH4|10 μM","BH4|100 μM"],"axis":{"orient":"top","offset":0,"title":"F","titleX":265,"titleY":667,"titleAlign":"left","titleBaseline":"middle","titleFontSize":16,"titleFontWeight":"bold","labels":false,"ticks":false,"domain":false}},"y":{"field":"v","type":"quantitative","axis":null},"text":{"field":"lab"}}}
 ]
},
{
 "data":{"values":[
  {"k":"bar","grp":"Control","bh":"-","v":1.01,"lo":0.94,"hi":1.08},{"k":"bar","grp":"Control","bh":"+","v":1.25,"lo":1.18,"hi":1.32},
  {"k":"bar","grp":"L-NAME","bh":"-","v":1.1,"lo":1.05,"hi":1.14},{"k":"bar","grp":"L-NAME","bh":"+","v":1.07,"lo":1.01,"hi":1.12},
  {"k":"pt","grp":"Control","bh":"-","v":1.17},{"k":"pt","grp":"Control","bh":"-","v":1.08},{"k":"pt","grp":"Control","bh":"-","v":1.06},{"k":"pt","grp":"Control","bh":"-","v":0.98},{"k":"pt","grp":"Control","bh":"-","v":0.68},
  {"k":"pt","grp":"Control","bh":"+","v":1.46},{"k":"pt","grp":"Control","bh":"+","v":1.36},{"k":"pt","grp":"Control","bh":"+","v":1.23},{"k":"pt","grp":"Control","bh":"+","v":1.21},{"k":"pt","grp":"Control","bh":"+","v":1.19},
  {"k":"pt","grp":"L-NAME","bh":"-","v":1.2},{"k":"pt","grp":"L-NAME","bh":"-","v":1.17},{"k":"pt","grp":"L-NAME","bh":"-","v":1.13},{"k":"pt","grp":"L-NAME","bh":"-","v":1.05},{"k":"pt","grp":"L-NAME","bh":"-","v":0.85},
  {"k":"pt","grp":"L-NAME","bh":"+","v":1.17},{"k":"pt","grp":"L-NAME","bh":"+","v":1.16},{"k":"pt","grp":"L-NAME","bh":"+","v":1.12},{"k":"pt","grp":"L-NAME","bh":"+","v":0.95},{"k":"pt","grp":"L-NAME","bh":"+","v":0.94},
  {"k":"sig","grp":"Control","v":1.55,"lab":"*"},{"k":"sig","grp":"L-NAME","v":1.32,"lab":"n.s."},
  {"k":"sub","grp":"Control","bh":"-","lab":"-"},{"k":"sub","grp":"Control","bh":"+","lab":"+"},{"k":"sub","grp":"L-NAME","bh":"-","lab":"-"},{"k":"sub","grp":"L-NAME","bh":"+","lab":"+"},
  {"k":"bh4","grp":"Control","lab":"BH4"},
  {"k":"ul","grp":"Control"},{"k":"ul","grp":"L-NAME"},
  {"k":"sep","grp":"sep"}
 ]},
 "resolve":{"axis":{"x":"independent","y":"independent"}},
 "layer":[
  {"transform":[{"filter":"datum.k=='sep'"}],"mark":{"type":"rule","strokeWidth":1.3,"color":"#333"},
   "encoding":{"x":{"field":"grp","type":"nominal","sort":["Control","sep","L-NAME"],"axis":null},"y":{"datum":0,"type":"quantitative","axis":null},"y2":{"datum":1.6}}},
  {"transform":[{"filter":"datum.k=='bar'"}],"mark":{"type":"bar","stroke":"#000","strokeWidth":1.3},
   "encoding":{
    "x":{"field":"grp","type":"nominal","sort":["Control","sep","L-NAME"],"scale":{"domain":["Control","sep","L-NAME"],"range":[549,698],"paddingInner":0,"paddingOuter":0.156},"axis":{"orient":"bottom","offset":-43,"title":null,"ticks":false,"labelAngle":0,"labelFontSize":13,"labelPadding":30,"labelExpr":"datum.label == 'sep' ? '' : datum.label"}},
    "xOffset":{"field":"bh","type":"nominal","sort":["-","+"],"scale":{"domain":["-","+"],"paddingInner":0.5,"paddingOuter":0}},
    "y":{"field":"v","type":"quantitative","scale":{"domain":[0,1.6],"range":[898,720]},"axis":{"orient":"left","offset":-549,"title":"Relative mRNA expression","values":[0,0.4,0.8,1.2,1.6],"format":".1f","titlePadding":7,"labelFontSize":13,"titleFontSize":13}},
    "color":{"field":"bh","type":"nominal","scale":{"domain":["-","+"],"range":["#ffffff","#a0a0a0"]},"legend":null}
   }},
  {"transform":[{"filter":"datum.k=='bar'"}],"mark":{"type":"rule","strokeWidth":1.3},
   "encoding":{"x":{"field":"grp","type":"nominal","sort":["Control","sep","L-NAME"],"axis":null},"xOffset":{"field":"bh","type":"nominal","sort":["-","+"]},"y":{"field":"lo","type":"quantitative","axis":null},"y2":{"field":"hi"}}},
  {"transform":[{"filter":"datum.k=='bar'"}],"mark":{"type":"tick","orient":"horizontal","size":12,"thickness":1.3},
   "encoding":{"x":{"field":"grp","type":"nominal","sort":["Control","sep","L-NAME"],"axis":null},"xOffset":{"field":"bh","type":"nominal","sort":["-","+"]},"y":{"field":"hi","type":"quantitative","axis":null}}},
  {"transform":[{"filter":"datum.k=='bar'"}],"mark":{"type":"tick","orient":"horizontal","size":12,"thickness":1.3},
   "encoding":{"x":{"field":"grp","type":"nominal","sort":["Control","sep","L-NAME"],"axis":null},"xOffset":{"field":"bh","type":"nominal","sort":["-","+"]},"y":{"field":"lo","type":"quantitative","axis":null}}},
  {"transform":[{"filter":"datum.k=='pt'"}],"mark":{"type":"point","shape":"square","filled":true,"stroke":"#000","strokeWidth":1,"size":30},
   "encoding":{"x":{"field":"grp","type":"nominal","sort":["Control","sep","L-NAME"],"axis":null},"xOffset":{"field":"bh","type":"nominal","sort":["-","+"]},"y":{"field":"v","type":"quantitative","axis":null},
    "fill":{"field":"bh","type":"nominal","sort":["-","+"],"scale":{"range":["#ffffff","#000000"]},"legend":null}}},
  {"transform":[{"filter":"datum.k=='sig'"}],"mark":{"type":"tick","orient":"horizontal","size":37,"thickness":1.5},
   "encoding":{"x":{"field":"grp","type":"nominal","sort":["Control","sep","L-NAME"],"axis":{"orient":"top","offset":0,"title":"Ucp1","titleFontStyle":"italic","titleX":580,"titleY":679,"titleAlign":"left","titleBaseline":"middle","titleFontSize":13,"labels":false,"ticks":false,"domain":false}},"y":{"field":"v","type":"quantitative","axis":null}}},
  {"transform":[{"filter":"datum.k=='sig'"}],"mark":{"type":"text","fontSize":13,"baseline":"alphabetic","dy":-2},
   "encoding":{"x":{"field":"grp","type":"nominal","sort":["Control","sep","L-NAME"],"axis":{"orient":"top","offset":0,"title":"expression","titleX":613,"titleY":679,"titleAlign":"left","titleBaseline":"middle","titleFontSize":13,"labels":false,"ticks":false,"domain":false}},"y":{"field":"v","type":"quantitative","axis":null},"text":{"field":"lab"}}},
  {"transform":[{"filter":"datum.k=='sub'"}],"mark":{"type":"text","fontSize":13,"baseline":"alphabetic"},
   "encoding":{"x":{"field":"grp","type":"nominal","sort":["Control","sep","L-NAME"],"axis":{"orient":"top","offset":0,"title":"G","titleX":487,"titleY":670,"titleAlign":"left","titleBaseline":"middle","titleFontSize":16,"titleFontWeight":"bold","labels":false,"ticks":false,"domain":false}},"xOffset":{"field":"bh","type":"nominal","sort":["-","+"]},"y":{"datum":-0.19,"type":"quantitative","axis":null},"text":{"field":"lab"}}},
  {"transform":[{"filter":"datum.k=='bh4'"}],"mark":{"type":"text","fontSize":13,"baseline":"alphabetic","align":"right","dx":-9},
   "encoding":{"x":{"field":"grp","type":"nominal","sort":["Control","sep","L-NAME"],"bandPosition":0,"axis":null},"y":{"datum":-0.19,"type":"quantitative","axis":null},"text":{"field":"lab"}}},
  {"transform":[{"filter":"datum.k=='ul'"}],"mark":{"type":"tick","orient":"horizontal","size":53,"thickness":1.2},
   "encoding":{"x":{"field":"grp","type":"nominal","sort":["Control","sep","L-NAME"],"axis":null},"y":{"datum":-0.225,"type":"quantitative","axis":null}}}
 ]
}
]
}
